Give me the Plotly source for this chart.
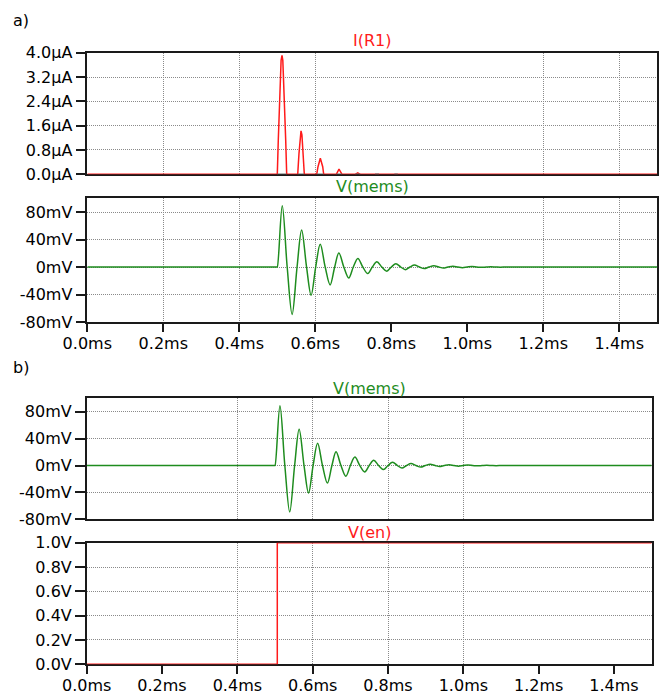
import plotly.graph_objects as go

# ---------------- data ----------------
# time axis ticks (ms)
x_tickvals = [0.0, 0.2, 0.4, 0.6, 0.8, 1.0, 1.2, 1.4]
x_ticktext = ["0.0ms", "0.2ms", "0.4ms", "0.6ms", "0.8ms", "1.0ms", "1.2ms", "1.4ms"]

# I(R1) current pulses (t in ms, current in µA)
t_ir1 = [0.0, 0.5000, 0.5026, 0.5053, 0.5079, 0.5100, 0.5124, 0.5145, 0.5158, 0.5195, 0.5221, 0.5247,
         0.5537, 0.5571, 0.5600, 0.5624, 0.5648, 0.5676, 0.5711,
         0.6037, 0.6071, 0.6132, 0.6195, 0.6221,
         0.6553, 0.6624, 0.6703,
         0.7053, 0.7116, 0.7184,
         0.7570, 0.7624, 0.7676,
         0.8080, 0.8124, 0.8170,
         1.5]
i_ir1 = [0.0, 0.0, 1.13, 2.22, 3.32, 3.75, 3.91, 3.75, 3.32, 2.22, 1.13, 0.0,
         0.0, 0.69, 1.30, 1.43, 1.30, 0.69, 0.0,
         0.0, 0.25, 0.53, 0.25, 0.0,
         0.0, 0.17, 0.0,
         0.0, 0.045, 0.0,
         0.0, 0.012, 0.0,
         0.0, 0.004, 0.0,
         0.0]

# V(mems) damped ringing (t in ms, voltage in mV)
t_mems = [0.0, 0.499, 0.500, 0.513, 0.526, 0.539, 0.552, 0.564, 0.577, 0.589, 0.601,
          0.613, 0.626, 0.639, 0.651, 0.662, 0.675, 0.688, 0.700, 0.712, 0.725,
          0.738, 0.750, 0.762, 0.775, 0.788, 0.800, 0.812, 0.825, 0.837, 0.849,
          0.861, 0.874, 0.887, 0.899, 0.912, 0.925, 0.937, 0.949, 0.962, 0.975,
          0.987, 1.000, 1.012, 1.025, 1.037, 1.050, 1.062, 1.075, 1.087, 1.100,
          1.112, 1.125, 1.5]
v_mems = [0.0, 0.0, 0.0, 89.0, 0.0, -69.0, 0.0, 54.0, 0.0, -41.0, 0.0,
          33.0, 0.0, -26.0, 0.0, 20.5, 0.0, -16.0, 0.0, 12.5, 0.0,
          -9.5, 0.0, 7.8, 0.0, -6.0, 0.0, 4.8, 0.0, -3.8, 0.0,
          3.0, 0.0, -2.3, 0.0, 1.8, 0.0, -1.4, 0.0, 1.1, 0.0,
          -0.9, 0.0, 0.7, 0.0, -0.5, 0.0, 0.4, 0.0, -0.3, 0.0,
          0.2, 0.0, 0.0]

# V(en) enable step (t in ms, V)
t_en = [0.0, 0.506, 0.506, 1.5]
v_en = [0.0, 0.0, 1.0, 1.0]

# y tick labels
ir1_tickvals = [0.0, 0.8, 1.6, 2.4, 3.2, 4.0]
ir1_ticktext = ["0.0µA", "0.8µA", "1.6µA", "2.4µA", "3.2µA", "4.0µA"]
mems_tickvals = [-80, -40, 0, 40, 80]
mems_ticktext = ["-80mV", "-40mV", "0mV", "40mV", "80mV"]
en_tickvals = [0.0, 0.2, 0.4, 0.6, 0.8, 1.0]
en_ticktext = ["0.0V", "0.2V", "0.4V", "0.6V", "0.8V", "1.0V"]

# vertical grid positions visible in each part
grid_a = [0.2, 0.4, 0.6, 1.2, 1.4]
grid_b = [0.4, 0.6, 0.8, 1.0]

# ---------------- styling ----------------
RED = "#ff1a1a"
GREEN = "#1e8c1e"
FONT = "DejaVu Sans"
GRIDC = "#8a8a8a"
GRIDDASH = "1px,1px"
LINEC = "#1a1a1a"
TXT = "#000000"

W, H = 666, 695


def px_x(a, b):
    return [a / W, b / W]


def px_y(top, bottom):
    return [1 - bottom / H, 1 - top / H]


# base segments under each current pulse (derived from the I(R1) data)
base_x, base_y = [], []
start = None
for k in range(len(t_ir1) - 1):
    if i_ir1[k] == 0 and i_ir1[k + 1] > 0:
        start = t_ir1[k]
    if i_ir1[k] > 0 and i_ir1[k + 1] == 0:
        base_x += [start, t_ir1[k + 1], None]
        base_y += [0, 0, None]

fig = go.Figure()
fig.add_trace(go.Scatter(x=t_ir1, y=i_ir1, mode="lines", line=dict(color=RED, width=1.5),
                         xaxis="x", yaxis="y", hoverinfo="skip"))
fig.add_trace(go.Scatter(x=base_x, y=base_y, mode="lines", line=dict(color="#6a6a6a", width=1.5),
                         xaxis="x", yaxis="y", hoverinfo="skip"))
fig.add_trace(go.Scatter(x=t_mems, y=v_mems, mode="lines",
                         line=dict(color=GREEN, width=1.5, shape="spline", smoothing=1),
                         xaxis="x2", yaxis="y2", hoverinfo="skip"))
fig.add_trace(go.Scatter(x=t_mems, y=v_mems, mode="lines",
                         line=dict(color=GREEN, width=1.5, shape="spline", smoothing=1),
                         xaxis="x3", yaxis="y3", hoverinfo="skip"))
fig.add_trace(go.Scatter(x=t_en, y=v_en, mode="lines", line=dict(color=RED, width=1.5),
                         xaxis="x4", yaxis="y4", hoverinfo="skip"))

# empty helper traces so the overlay (grid / tick) axes get drawn
for xa_name, ya_name in [("x5", "y"), ("x6", "y2"), ("x7", "y3"), ("x8", "y4"),
                         ("x9", "y2"), ("x10", "y4")]:
    fig.add_trace(go.Scatter(x=[None], y=[None], mode="lines", xaxis=xa_name, yaxis=ya_name,
                             hoverinfo="skip", showlegend=False))


def xax(dom, anchor, labels):
    return dict(domain=dom, anchor=anchor, range=[0, 1.5], tickmode="array",
                tickvals=x_tickvals, ticktext=x_ticktext, showticklabels=labels,
                ticks="outside" if labels else "", ticklen=6, tickwidth=1.5,
                tickcolor="rgba(0,0,0,0)",
                showgrid=False, zeroline=False, showline=True, mirror=True,
                linecolor=LINEC, linewidth=1.5, layer="below traces", automargin=False,
                tickfont=dict(family=FONT, size=16, color=TXT))


def xgrid(dom, overlay, anchor, grid):
    return dict(domain=dom, overlaying=overlay, anchor=anchor, range=[0, 1.5],
                tickmode="array", tickvals=grid, showticklabels=False, ticks="",
                showgrid=True, gridcolor=GRIDC, griddash=GRIDDASH, gridwidth=1,
                zeroline=False, showline=False, automargin=False)


def xticks(dom, overlay, anchor):
    return dict(domain=dom, overlaying=overlay, anchor=anchor, range=[0, 1.5], side="bottom",
                tickmode="array", tickvals=x_tickvals, showticklabels=False,
                ticks="outside", ticklen=9, tickwidth=1.5, tickcolor=LINEC,
                showgrid=False, zeroline=False, showline=False, automargin=False)


def yax(dom, anchor, rng, tv, tt):
    return dict(domain=dom, anchor=anchor, range=rng, tickmode="array", tickvals=tv, ticktext=tt,
                ticks="outside", ticklen=10, tickwidth=1.5, tickcolor=LINEC,
                showgrid=True, gridcolor=GRIDC, griddash=GRIDDASH, gridwidth=1,
                zeroline=False, showline=True, mirror=True, linecolor=LINEC, linewidth=1.5,
                layer="below traces", automargin=False,
                tickfont=dict(family=FONT, size=16, color=TXT))


xa = px_x(87.3, 657.3)
xb = px_x(86.7, 651.7)

fig.update_layout(
    width=W, height=H, margin=dict(l=0, r=0, t=0, b=0, autoexpand=False),
    paper_bgcolor="white", plot_bgcolor="white", showlegend=False,
    font=dict(family=FONT, size=16, color=TXT),
    xaxis=xax(xa, "y", False),
    yaxis=yax(px_y(52.7, 174.3), "x", [0, 4.0], ir1_tickvals, ir1_ticktext),
    xaxis2=xax(xa, "y2", True),
    yaxis2=yax(px_y(198.3, 322.0), "x2", [-80, 100], mems_tickvals, mems_ticktext),
    xaxis3=xax(xb, "y3", False),
    yaxis3=yax(px_y(398.3, 519.3), "x3", [-80, 100], mems_tickvals, mems_ticktext),
    xaxis4=xax(xb, "y4", True),
    yaxis4=yax(px_y(542.7, 664.3), "x4", [0, 1.0], en_tickvals, en_ticktext),
    xaxis5=xgrid(xa, "x", "y", grid_a),
    xaxis6=xgrid(xa, "x2", "y2", grid_a),
    xaxis7=xgrid(xb, "x3", "y3", grid_b),
    xaxis8=xgrid(xb, "x4", "y4", grid_b),
    xaxis9=xticks(xa, "x2", "y2"),
    xaxis10=xticks(xb, "x4", "y4"),
)

ann = [
    ("I(R1)", (87.3 + 657.3) / 2, 41, RED),
    ("V(mems)", (87.3 + 657.3) / 2, 186, GREEN),
    ("V(mems)", (86.7 + 651.7) / 2, 388, GREEN),
    ("V(en)", (86.7 + 651.7) / 2, 532.5, RED),
    ("a)", 21, 20, TXT),
    ("b)", 21, 367, TXT),
]
for text, xp, yp, col in ann:
    fig.add_annotation(text=text, xref="paper", yref="paper", x=xp / W, y=1 - yp / H,
                       xanchor="center", yanchor="middle", showarrow=False,
                       font=dict(family=FONT, size=16, color=col))

fig.write_html("out.html")
